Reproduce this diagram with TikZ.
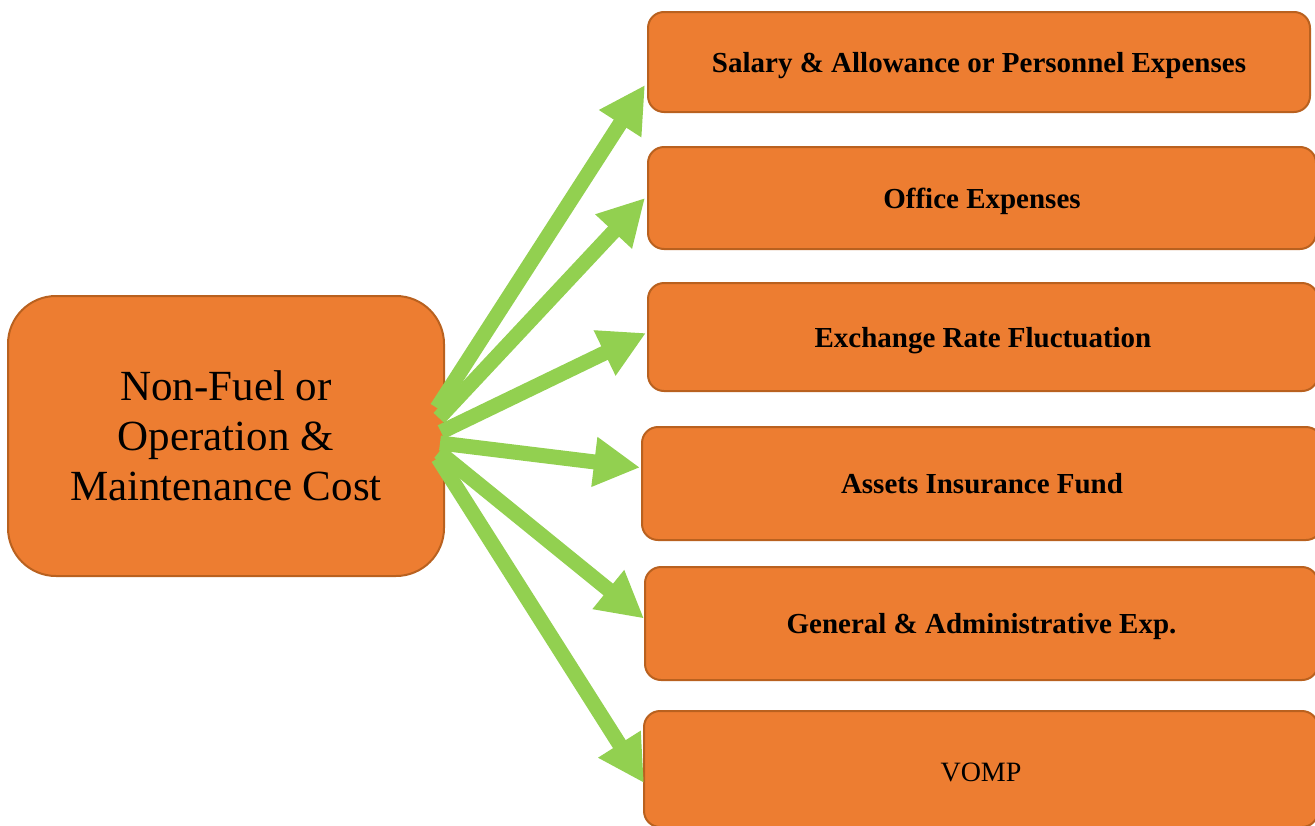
\documentclass[tikz,border=0pt]{standalone}
\usepackage{fontspec}
\setmainfont{Liberation Serif}
\usetikzlibrary{arrows.meta}
\definecolor{boxfill}{HTML}{ED7D31}
\definecolor{boxline}{HTML}{B9611F}
\definecolor{arrowgreen}{HTML}{92D050}
\tikzset{
  costbox/.style={draw=boxline, fill=boxfill, line width=2pt, rounded corners=16pt,
    inner sep=0pt, text height=20pt, text depth=0pt,
    font=\fontsize{29}{34}\selectfont\bfseries},
  rootbox/.style={draw=boxline, fill=boxfill, line width=2pt, rounded corners=48pt,
    inner sep=0pt, align=center, font=\fontsize{43}{50}\selectfont},
  flow/.style={draw=arrowgreen, line width=15pt,
    -{Triangle[width=47pt,length=46pt]}},
}
\begin{document}
\begin{tikzpicture}[x={(1pt,0)}, y={(0,-1pt)}]
\useasboundingbox (0,0) rectangle (1315,825);

% source box
\node[rootbox, minimum width=436pt, minimum height=280pt] (root) at (226,436)
  {Non-Fuel or\\Operation \&\\Maintenance Cost};

% cost components
\node[costbox, minimum width=662pt, minimum height=100pt] (b1) at (979,62)
  {Salary \& Allowance or Personnel Expenses};
\node[costbox, minimum width=668pt, minimum height=102pt] (b2) at (982,198)
  {Office Expenses};
\node[costbox, minimum width=670pt, minimum height=108pt] (b3) at (983,337)
  {Exchange Rate Fluctuation};
\node[costbox, minimum width=680pt, minimum height=113pt] (b4) at (982,483.5)
  {Assets Insurance Fund};
\node[costbox, minimum width=673pt, minimum height=113pt] (b5) at (981.5,623.5)
  {General \& Administrative Exp.};
\node[costbox, minimum width=674pt, minimum height=116pt, text height=25pt,
  font=\fontsize{28}{34}\selectfont] (b6) at (981,769)
  {VOMP};

% arrow origins on the right side of the source box
\coordinate (s1) at (437,408);
\coordinate (s2) at (439,418);
\coordinate (s3) at (441,432);
\coordinate (s4) at (440,443);
\coordinate (s5) at (439,452);
\coordinate (s6) at (438,458);

\draw[flow] (s1) -- ([xshift=-2pt,yshift=-23pt]b1.west);
\draw[flow] (s2) -- ([xshift=-2pt]b2.west);
\draw[flow] (s3) -- ([xshift=-1pt,yshift=4pt]b3.west);
\draw[flow] (s4) -- ([xshift=-1pt,yshift=16pt]b4.west);
\draw[flow] (s5) -- ([yshift=5pt]b5.west);
\draw[flow] (s6) -- ([xshift=1pt,yshift=-14pt]b6.west);
\end{tikzpicture}
\end{document}
